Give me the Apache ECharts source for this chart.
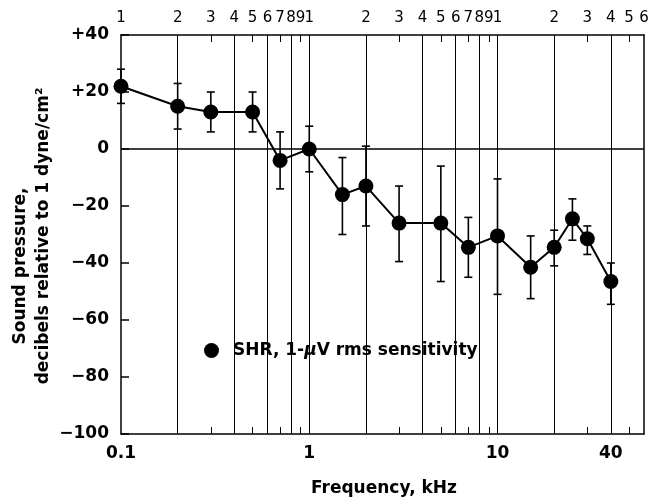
<!DOCTYPE html>
<html>
<head>
<meta charset="utf-8">
<script src="https://cdn.jsdelivr.net/npm/echarts@6/dist/echarts.min.js"></script>
<style>html,body{margin:0;padding:0;background:#fff}#chart{width:659px;height:501px}</style>
</head>
<body>
<div id="chart"></div>
<script>
// data (kHz, dB re 1 dyne/cm2)
const freqKHz = [0.1, 0.2, 0.3, 0.5, 0.7, 1, 1.5, 2, 3, 5, 7, 10, 15, 20, 25, 30, 40]
const meanDb  = [22, 15, 13, 13, -4, 0, -16, -13, -26, -26, -34.5, -30.5, -41.5, -34.5, -24.5, -31.5, -46.5]
const upperDb = [28, 23, 20, 20, 6, 8, -3, 1, -13, -6, -24, -10.5, -30.5, -28.5, -17.5, -27, -40]
const lowerDb = [16, 7, 6, 6, -14, -8, -30, -27, -39.5, -46.5, -45, -51, -52.5, -41, -32, -37, -54.5]

const fullLines = [0.2, 0.4, 0.6, 0.8, 1, 2, 4, 6, 8, 10, 20, 40]
const shortTicks = [0.3, 0.5, 0.7, 0.9, 3, 5, 7, 9, 30, 50]
const topTicks = [0.1,0.2,0.3,0.4,0.5,0.6,0.7,0.8,0.9,1,2,3,4,5,6,7,8,9,10,20,30,40,50,60]
const topLabels = ['1','2','3','4','5','6','7','8','9','1','2','3','4','5','6','7','8','9','1','2','3','4','5','6']
const bottomTicks = [0.1, 1, 10, 40]
const bottomLabels = ['0.1', '1', '10', '40']

const FONT = 'DejaVu Sans'
function lookup(vals, labels, v){
  for(let i=0;i<vals.length;i++){ if(Math.abs(vals[i]-v) < vals[i]*1e-6) return labels[i] }
  return ''
}

const chart = echarts.init(document.getElementById('chart'), null, {renderer:'canvas'})
const xBase = {type:'log', logBase:10, min:0.1, max:60, gridIndex:0,
  axisLine:{onZero:false, lineStyle:{color:'#000', width:1.5}},
  splitLine:{show:false}, minorTick:{show:false}}

chart.setOption({
  animation:false,
  backgroundColor:'#fff',
  textStyle:{fontFamily:FONT},
  grid:{left:121, right:15, top:35, bottom:67},
  xAxis:[
    Object.assign({}, xBase, {position:'bottom',
      axisTick:{show:true, inside:true, length:7, customValues:shortTicks, lineStyle:{color:'#000'}},
      axisLabel:{customValues:bottomTicks, margin:11, color:'#000', fontSize:17, fontWeight:'bold', fontFamily:FONT,
        formatter:v=>lookup(bottomTicks, bottomLabels, v)}}),
    Object.assign({}, xBase, {position:'top',
      axisTick:{show:true, inside:true, length:7, customValues:shortTicks, lineStyle:{color:'#000'}},
      axisLabel:{customValues:topTicks, margin:9, color:'#000', fontSize:15, fontFamily:FONT,
        formatter:v=>lookup(topTicks, topLabels, v)}})
  ],
  yAxis:[{type:'value', min:-100, max:40, interval:20,
    axisLine:{show:true, onZero:false, lineStyle:{color:'#000', width:1.5}},
    axisTick:{show:true, inside:true, length:8, lineStyle:{color:'#000', width:1.5}},
    splitLine:{show:false},
    axisLabel:{margin:12, color:'#000', fontSize:17, fontWeight:'bold', fontFamily:FONT,
      formatter:v=>v>0?'+'+v:(v<0?'\u2212'+(-v):'0')}
  },{type:'value', min:-100, max:40, position:'right',
    axisLine:{show:true, onZero:false, lineStyle:{color:'#000', width:1.5}},
    axisTick:{show:false}, axisLabel:{show:false}, splitLine:{show:false}}],
  legend:{
    data:[{name:'SHR', icon:'circle'}],
    left:202, top:339, itemWidth:15, itemHeight:15,
    backgroundColor:'#fff', padding:[3,4,3,2],
    formatter:()=>'{p|}{a|SHR, 1-}{i|\u03bc}{a|V rms sensitivity}',
    textStyle:{color:'#000', fontSize:17, fontFamily:FONT,
      rich:{p:{width:9}, a:{fontSize:17, fontWeight:'bold', fontFamily:FONT, color:'#000'},
        i:{fontSize:17, fontStyle:'italic', fontWeight:'bold', fontFamily:FONT, color:'#000'}}}
  },
  graphic:[
    {type:'text', x:21, y:266, rotation:Math.PI/2,
      style:{text:'Sound pressure,', fill:'#000', font:'bold 17px "DejaVu Sans"', align:'center', verticalAlign:'middle'}},
    {type:'text', x:44, y:236, rotation:Math.PI/2,
      style:{text:'decibels relative to 1 dyne/cm\u00b2', fill:'#000', font:'bold 17px "DejaVu Sans"', align:'center', verticalAlign:'middle'}},
    {type:'text', x:384, y:489,
      style:{text:'Frequency, kHz', fill:'#000', font:'bold 17px "DejaVu Sans"', align:'center', verticalAlign:'middle'}}
  ],
  series:[
    {type:'line', name:'grid', data:[], silent:true, z:1,
      markLine:{symbol:'none', silent:true, animation:false, label:{show:false},
        lineStyle:{color:'#000', width:1, type:'solid'},
        data:fullLines.map(v=>({xAxis:v})).concat([{yAxis:0, lineStyle:{width:1.5}}])}},
    {type:'custom', name:'range', z:3, silent:true,
      data:freqKHz.map((f,i)=>[f, lowerDb[i], upperDb[i]]),
      encode:{x:0, y:[1,2]},
      renderItem:(params, api)=>{
        const lo = api.coord([api.value(0), api.value(1)])
        const hi = api.coord([api.value(0), api.value(2)])
        const w = 4
        const st = {stroke:'#000', lineWidth:1.6}
        return {type:'group', children:[
          {type:'line', shape:{x1:lo[0], y1:lo[1], x2:hi[0], y2:hi[1]}, style:st},
          {type:'line', shape:{x1:lo[0]-w, y1:lo[1], x2:lo[0]+w, y2:lo[1]}, style:st},
          {type:'line', shape:{x1:hi[0]-w, y1:hi[1], x2:hi[0]+w, y2:hi[1]}, style:st}
        ]}
      }},
    {type:'line', name:'SHR', z:4,
      data:freqKHz.map((f,i)=>[f, meanDb[i]]),
      symbol:'circle', symbolSize:15, showAllSymbol:true,
      itemStyle:{color:'#000'}, lineStyle:{color:'#000', width:2}}
  ]
})
</script>
</body>
</html>
